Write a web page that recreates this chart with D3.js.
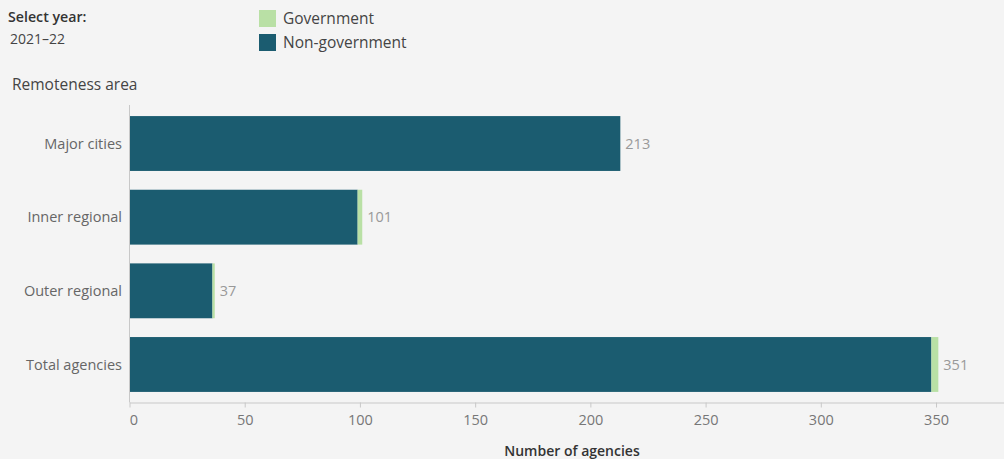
<!DOCTYPE html>
<html><head><meta charset="utf-8">
<script src="https://cdn.jsdelivr.net/npm/d3@7"></script>
<style>
html,body{margin:0;padding:0;background:#f4f4f4;}
svg{display:block;font-family:"Open Sans","Noto Sans",sans-serif;}
</style></head>
<body>
<svg id="chart" width="1004" height="459"></svg>
<script>
const categories = ["Major cities","Inner regional","Outer regional","Total agencies"];
const nonGovernment = [213, 99, 36, 348];
const government = [0, 2, 1, 3];
const totals = [213, 101, 37, 351];
const xTicks = [0,50,100,150,200,250,300,350];
const seriesNames = ["Government","Non-government"];
const yearLabel = "2021–22";

const colNon = "#1b5c70", colGov = "#b9e0a5";
const svg = d3.select("#chart");
svg.append("rect").attr("width",1004).attr("height",459).attr("fill","#f4f4f4");

const left = 129.5, right = 1004;
const x = d3.scaleLinear().domain([0, 379.5]).range([left, right]);
const y = d3.scaleBand().domain(categories).range([106.5, 401.5]).paddingInner(0.255).paddingOuter(0.13);

// header
svg.append("text").attr("x",8).attr("y",22).attr("font-size",14.2).attr("font-weight",600).attr("fill","#333").text("Select year:");
svg.append("text").attr("x",10).attr("y",44).attr("font-size",14).attr("fill","#444").text(yearLabel);
const leg = svg.append("g");
[colGov, colNon].forEach((c,i)=>{
  leg.append("rect").attr("x",259).attr("y",10+i*24).attr("width",17).attr("height",17).attr("fill",c);
  leg.append("text").attr("x",283).attr("y",24+i*24).attr("font-size",15.5).attr("fill","#444").text(seriesNames[i]);
});
svg.append("text").attr("x",12).attr("y",90).attr("font-size",15.5).attr("fill","#444").text("Remoteness area");

// bars
const g = svg.append("g");
categories.forEach((c,i)=>{
  g.append("rect").attr("x",x(0)).attr("y",y(c)).attr("width",x(nonGovernment[i])-x(0)).attr("height",y.bandwidth()).attr("fill",colNon);
  if (government[i]>0)
    g.append("rect").attr("x",x(nonGovernment[i])).attr("y",y(c)).attr("width",x(nonGovernment[i]+government[i])-x(nonGovernment[i])).attr("height",y.bandwidth()).attr("fill",colGov);
  g.append("text").attr("x",x(totals[i])+5).attr("y",y(c)+y.bandwidth()/2).attr("dy","0.35em")
    .attr("font-size",14.5).attr("fill","#999").text(totals[i]);
  g.append("text").attr("x",122).attr("y",y(c)+y.bandwidth()/2).attr("dy","0.35em").attr("text-anchor","end")
    .attr("font-size",14.5).attr("fill","#666").text(c);
});

// y axis line
svg.append("line").attr("x1",left).attr("x2",left).attr("y1",105).attr("y2",402.5).attr("stroke","#c8c8c8");

// x axis
const xAxis = svg.append("g").attr("transform","translate(0,402.5)")
  .call(d3.axisBottom(x).tickValues(xTicks).tickSize(5).tickSizeOuter(0).tickPadding(7));
xAxis.select(".domain").attr("stroke","#c8c8c8");
xAxis.selectAll(".tick line").attr("stroke","#c8c8c8");
xAxis.selectAll(".tick text").attr("font-size",14.5).attr("fill","#777").attr("font-family","'Open Sans','Noto Sans',sans-serif");
xAxis.selectAll(".tick text").filter(d=>d===0).attr("dx",4);

svg.append("text").attr("x",572).attr("y",456).attr("text-anchor","middle").attr("font-size",14).attr("font-weight",600).attr("fill","#333").text("Number of agencies");
</script>
</body></html>
